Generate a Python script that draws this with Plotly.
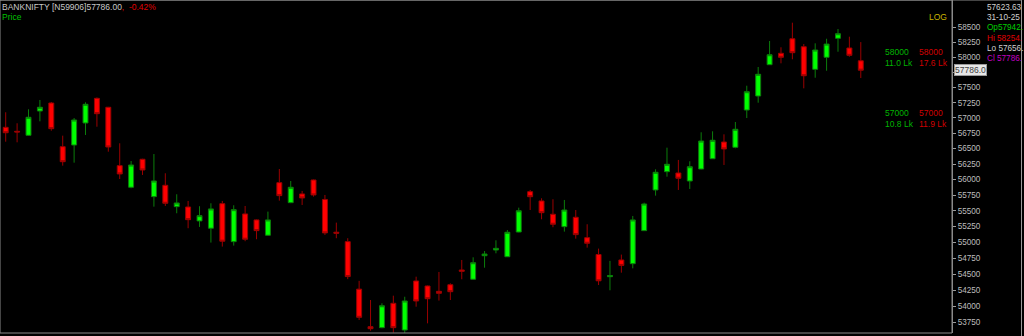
import math
import plotly.graph_objects as go

# ---- data (BANKNIFTY daily candles, last = 31-10-25) ----
opens = [56846,56781,56716,57113,57244,56531,56558,56917,57321,57174,
         56224,55876,56327,55726,55908,55566,55561,55339,55223,55614,
         55011,55450,55355,55112,55950,55630,55769,55993,55681,55160,
         55011,54266,53684,53669,54046,53633,54393,54315,54232,54335,
         54565,54420,54789,54879,54773,55163,55806,55657,55445,55248,
         55397,55074,54808,54460,54722,54664,55185,55833,56127,56106,
         55977,56170,56336,56607,56521,57129,57359,57877,58067,58310,
         58176,57800,58000,58317,58155,57942]
highs = [57092,56912,57141,57294,57261,56710,56998,57256,57335,57180,
         56586,56299,56335,56412,56101,55764,55657,55573,55620,55657,
         55588,55577,55362,55487,56170,55977,55817,56000,55753,55312,
         55065,54395,54097,54046,54164,54148,54460,54322,54534,54357,
         54722,54764,54863,55032,55195,55550,55833,55700,55684,55673,
         55513,55286,54901,54708,54807,55418,55630,56165,56515,56316,
         56295,56765,56781,56732,56933,57529,57839,58272,58167,58579,
         58221,58233,58310,58473,58344,58254]
lows = [56612,56602,56705,56944,56791,56224,56272,56721,56856,56450,
        56009,55860,56074,55566,55577,55461,55223,55244,54996,54933,
        54948,55018,55049,55105,55662,55622,55593,55726,55117,55065,
        54422,53788,53622,53660,53592,53572,53993,53736,54088,54097,
        54420,54415,54601,54827,54768,55158,55513,55365,55239,55169,
        55058,54916,54330,54248,54523,54591,55180,55742,56046,55833,
        55849,56165,56332,56235,56505,56998,57249,57872,57900,57967,
        57486,57661,57777,58093,58010,57656]
closes = [56758,56770,57010,57174,56824,56288,56966,57223,57069,56526,
          56090,56235,56154,55977,55620,55625,55359,55423,55530,55018,
          55518,55049,55185,55355,55742,55876,55705,55753,55149,55144,
          54462,53829,53653,54008,53669,54082,54082,54117,54201,54226,
          54545,54679,54816,54905,55159,55501,55725,55470,55286,55513,
          55122,54985,54396,54479,54637,55355,55609,56117,56246,56021,
          56207,56623,56635,56494,56814,57430,57718,58043,58000,58077,
          57694,58122,58221,58394,58033,57786]
bar_index = list(range(1, len(opens) + 1))

tick_vals = [53750, 54000, 54250, 54500, 54750, 55000, 55250, 55500, 55750,
             56000, 56250, 56500, 56750, 57000, 57250, 57500, 57750, 58000,
             58250, 58500]
# 57750 sits under the last-price box in the reference, so its label is hidden
tick_text = ["53750", "54000", "54250", "54500", "54750", "55000", "55250", "55500",
             "55750", "56000", "56250", "56500", "56750", "57000", "57250", "57500",
             "", "58000", "58250", "58500"]

oi_levels = [58000, 57000]
oi_call = ["11.0 Lk", "10.8 Lk"]
oi_put = ["17.6 Lk", "11.9 Lk"]

last_price = 57786.0
cursor_price = "57623.63"
bar_date = "31-10-25"
info_op, info_hi, info_lo, info_cl = "57942.", "58254.", "57656.", "57786."

W, H = 1024, 336
PLOT_W, PLOT_H = 952, 333
FONT = "Liberation Sans"
FS = 8.2

fig = go.Figure()
fig.add_trace(go.Candlestick(
    x=bar_index, open=opens, high=highs, low=lows, close=closes,
    increasing=dict(line=dict(color="#0b7d0b", width=1), fillcolor="#00ff00"),
    decreasing=dict(line=dict(color="#9a0000", width=1), fillcolor="#ff0000"),
    whiskerwidth=0, hoverinfo="skip", showlegend=False,
))

def py(pix):
    return 1 - pix / PLOT_H

def px(pix):
    return pix / PLOT_W

ann = []
ann.append(dict(x=0, y=py(7), xref="paper", yref="paper", xanchor="left", yanchor="middle",
                text="BANKNIFTY [N59906]57786.00<span style='color:#e00000'>,  -0.42%</span>",
                font=dict(family=FONT, size=8.5, color="#c8c8c8"), showarrow=False))
ann.append(dict(x=0, y=py(17.5), xref="paper", yref="paper", xanchor="left", yanchor="middle",
                text="Price", font=dict(family=FONT, size=8.5, color="#00c000"), showarrow=False))
ann.append(dict(x=px(949), y=py(17.3), xref="paper", yref="paper", xanchor="right", yanchor="middle",
                text="LOG", font=dict(family=FONT, size=8.5, color="#c8b400"), showarrow=False))

for lvl, c_txt, p_txt in zip(oi_levels, oi_call, oi_put):
    ly = math.log10(lvl)
    for xx, col, t1, t2 in [(884, "#00b400", str(lvl), c_txt), (918, "#d00000", str(lvl), p_txt)]:
        ann.append(dict(x=px(xx), y=ly, xref="paper", yref="y", xanchor="left", yanchor="bottom",
                        text=t1, font=dict(family=FONT, size=8.5, color=col), showarrow=False,
                        borderpad=0, yshift=-1))
        ann.append(dict(x=px(xx), y=ly, xref="paper", yref="y", xanchor="left", yanchor="top",
                        text=t2, font=dict(family=FONT, size=8.5, color=col), showarrow=False,
                        borderpad=0, yshift=0))

ann.append(dict(x=px(954), y=math.log10(last_price), xref="paper", yref="y", xanchor="left",
                yanchor="middle", text=f"{last_price:.1f}", bgcolor="#e6e6e6",
                bordercolor="#9a9a9a", borderwidth=1, borderpad=0,
                font=dict(family=FONT, size=8.5, color="#404040"), showarrow=False))

info = [(cursor_price, "#d0d0d0", 7.3), (bar_date, "#d0d0d0", 17.3),
        ("Op" + info_op, "#00d000", 28.0), ("Hi " + info_hi, "#e00000", 38.7),
        ("Lo " + info_lo, "#d0d0d0", 48.7), ("Cl " + info_cl, "#c000c0", 58.3)]
for t, col, yy in info:
    ann.append(dict(x=px(985), y=py(yy), xref="paper", yref="paper", xanchor="left",
                    yanchor="middle", text=t, font=dict(family=FONT, size=FS, color=col),
                    showarrow=False))

shapes = []
for lvl in oi_levels:
    shapes.append(dict(type="line", xref="paper", yref="y", x0=px(883), x1=1,
                       y0=math.log10(lvl), y1=math.log10(lvl),
                       line=dict(color="#b00000", width=1, dash="dot")))
shapes.append(dict(type="rect", xref="paper", yref="paper", x0=0, x1=1, y0=0, y1=1,
                   line=dict(color="#8a8a8a", width=1)))
shapes.append(dict(type="line", xref="paper", yref="paper", x0=px(1021.5), x1=px(1021.5),
                   y0=-0.02, y1=1, line=dict(color="#9a9a9a", width=1)))
shapes.append(dict(type="line", xref="paper", yref="paper", x0=0, x1=px(1022), y0=1, y1=1,
                   line=dict(color="#8a8a8a", width=1)))

top_price = 58962
bottom_price = 53587

fig.update_layout(
    width=W, height=H,
    margin=dict(l=0, r=W - PLOT_W, t=0, b=H - PLOT_H),
    paper_bgcolor="#000000", plot_bgcolor="#000000",
    boxgap=0.38,
    xaxis=dict(range=[0.5, 84.0], visible=False, rangeslider=dict(visible=False),
               showgrid=False, zeroline=False),
    yaxis=dict(type="log", side="right", range=[math.log10(bottom_price), math.log10(top_price)],
               tickvals=tick_vals, ticktext=tick_text, ticks="outside", ticklen=3,
               tickcolor="#9a9a9a", showgrid=False, zeroline=False, showline=True,
               linecolor="#8a8a8a", linewidth=1,
               tickfont=dict(family=FONT, size=FS, color="#bdbdbd")),
    annotations=ann, shapes=shapes,
)

fig.write_html("out.html")
